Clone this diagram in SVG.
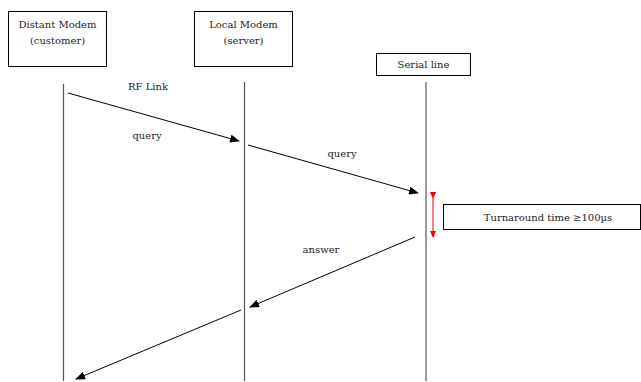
<svg xmlns="http://www.w3.org/2000/svg" width="641" height="382" viewBox="0 0 641 382">
<defs>
<style>
.box{fill:#fff;stroke:#000;stroke-width:1}
.t{font-family:'DejaVu Serif','Liberation Serif',serif;font-size:10px;fill:#222;text-anchor:middle}
.life{stroke:#555;stroke-width:1.2}
.msg{stroke:#000;stroke-width:1;fill:none}
</style>
<marker id="ah" markerWidth="10" markerHeight="8" refX="9" refY="4" orient="auto" markerUnits="userSpaceOnUse">
<path d="M0,0 L10,4 L0,8 Z" fill="#000"/>
</marker>
<marker id="rh" markerWidth="7" markerHeight="6" refX="6" refY="3" orient="auto" markerUnits="userSpaceOnUse">
<path d="M0,0 L7,3 L0,6 Z" fill="#e00"/>
</marker>
</defs>
<rect width="641" height="382" fill="#fff"/>
<g id="distant-modem">
<rect class="box" x="8.5" y="11.5" width="98" height="55"/>
<text class="t" x="57.5" y="28">Distant Modem</text>
<text class="t" x="57.5" y="44">(customer)</text>
</g>
<g id="local-modem">
<rect class="box" x="194.5" y="11.5" width="98" height="55"/>
<text class="t" x="243.5" y="28">Local Modem</text>
<text class="t" x="243.5" y="44">(server)</text>
</g>
<g id="serial-line">
<rect class="box" x="376.5" y="53.5" width="94" height="22"/>
<text class="t" x="423.5" y="68">Serial line</text>
</g>
<g id="turnaround">
<rect class="box" x="443.5" y="204.5" width="197" height="25"/>
<text class="t" x="548" y="221">Turnaround time ≥100µs</text>
</g>
<g id="connectors">
<line class="life" x1="63.5" y1="84" x2="63.5" y2="381"/>
<line class="life" x1="244.5" y1="82" x2="244.5" y2="381"/>
<line class="life" x1="426" y1="82" x2="426" y2="381"/>
<line class="msg" x1="68" y1="93" x2="239" y2="141" marker-end="url(#ah)"/>
<line class="msg" x1="248" y1="145" x2="418" y2="193" marker-end="url(#ah)"/>
<line class="msg" x1="415" y1="237" x2="250" y2="307" marker-end="url(#ah)"/>
<line class="msg" x1="241" y1="310" x2="76" y2="379" marker-end="url(#ah)"/>
<line x1="433" y1="198" x2="433" y2="237" stroke="#e00" stroke-width="1" marker-start="url(#rh)" marker-end="url(#rh)"/>
<text class="t" x="148" y="90">RF Link</text>
<text class="t" x="147" y="139">query</text>
<text class="t" x="342" y="157">query</text>
<text class="t" x="321" y="253">answer</text>
</g>
</svg>
